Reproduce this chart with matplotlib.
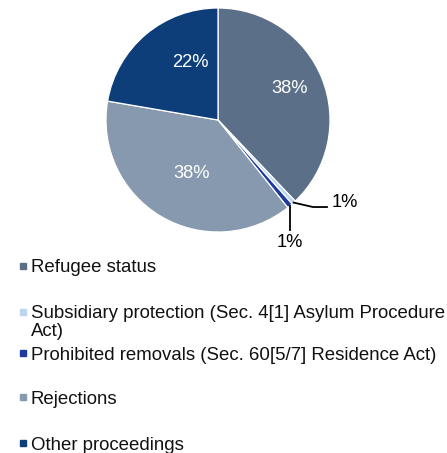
import matplotlib
matplotlib.use("Agg")
import matplotlib.pyplot as plt
import numpy as np
from matplotlib.patches import Rectangle

plt.rcParams['font.family'] = ['Liberation Sans', 'DejaVu Sans']

# data
labels = ["Refugee status",
          "Subsidiary protection (Sec. 4[1] Asylum Procedure\nAct)",
          "Prohibited removals (Sec. 60[5/7] Residence Act)",
          "Rejections",
          "Other proceedings"]
shares = [37.9, 0.6, 0.8, 38.4, 22.3]
colors = ["#5b7088", "#bcd6ef", "#1f3a9a", "#8699ae", "#0e3e7a"]

W, H = 447, 453
fig = plt.figure(figsize=(W / 100, H / 100), dpi=100)

# pie axes, centre at (218,120) px, radius 112 px
ax = fig.add_axes([(218 - 112) / W, 1 - (120 + 112) / H, 224 / W, 224 / H])
wedges, texts, autotexts = ax.pie(shares, colors=colors, startangle=90, counterclock=False,
                                  autopct='%1.0f%%', pctdistance=0.65,
                                  wedgeprops=dict(edgecolor='white', linewidth=0.9),
                                  textprops=dict(fontsize=13.2, color='white'))
ax.set_xlim(-1, 1)
ax.set_ylim(-1, 1)
ax.axis('off')

# label positions (radius units), Excel style best fit
big_pos = {0: (0.643, 0.277), 3: (-0.232, -0.482), 4: (-0.25, 0.509)}
for i, p in big_pos.items():
    autotexts[i].set_position(p)

# small slices: leader lines
for i in (1, 2):
    autotexts[i].set_visible(False)
w1 = wedges[1]
a1 = np.deg2rad((w1.theta1 + w1.theta2) / 2)
e1 = (np.cos(a1), np.sin(a1))
ax.plot([e1[0], 0.848, 0.973], [e1[1], -0.777, -0.777], color='black', lw=1.3, clip_on=False)
ax.text(1.015, -0.737, autotexts[1].get_text(), fontsize=13.2, color='black',
        ha='left', va='center')

w2 = wedges[2]
a2 = np.deg2rad((w2.theta1 + w2.theta2) / 2)
e2 = (np.cos(a2), np.sin(a2))
ax.plot([e2[0], e2[0]], [e2[1], -0.982], color='black', lw=1.3, clip_on=False)
ax.text(e2[0], -1.095, autotexts[2].get_text(), fontsize=13.2, color='black',
        ha='center', va='center')

# legend, drawn by hand like the Excel one
base_y = [272.5, 318.5, 360, 404, 450]
for lab, col, by in zip(labels, colors, base_y):
    fig.patches.append(Rectangle((20 / W, 1 - (by - 4) / H), 6 / W, 6 / H,
                                 transform=fig.transFigure, color=col))
    lines = lab.split("\n")
    for k, ln in enumerate(lines):
        fig.text(31 / W, 1 - (by + k * 17.5) / H, ln, fontsize=13.4, color='#111111',
                 ha='left', va='baseline')

fig.savefig("out.png", dpi=100)
